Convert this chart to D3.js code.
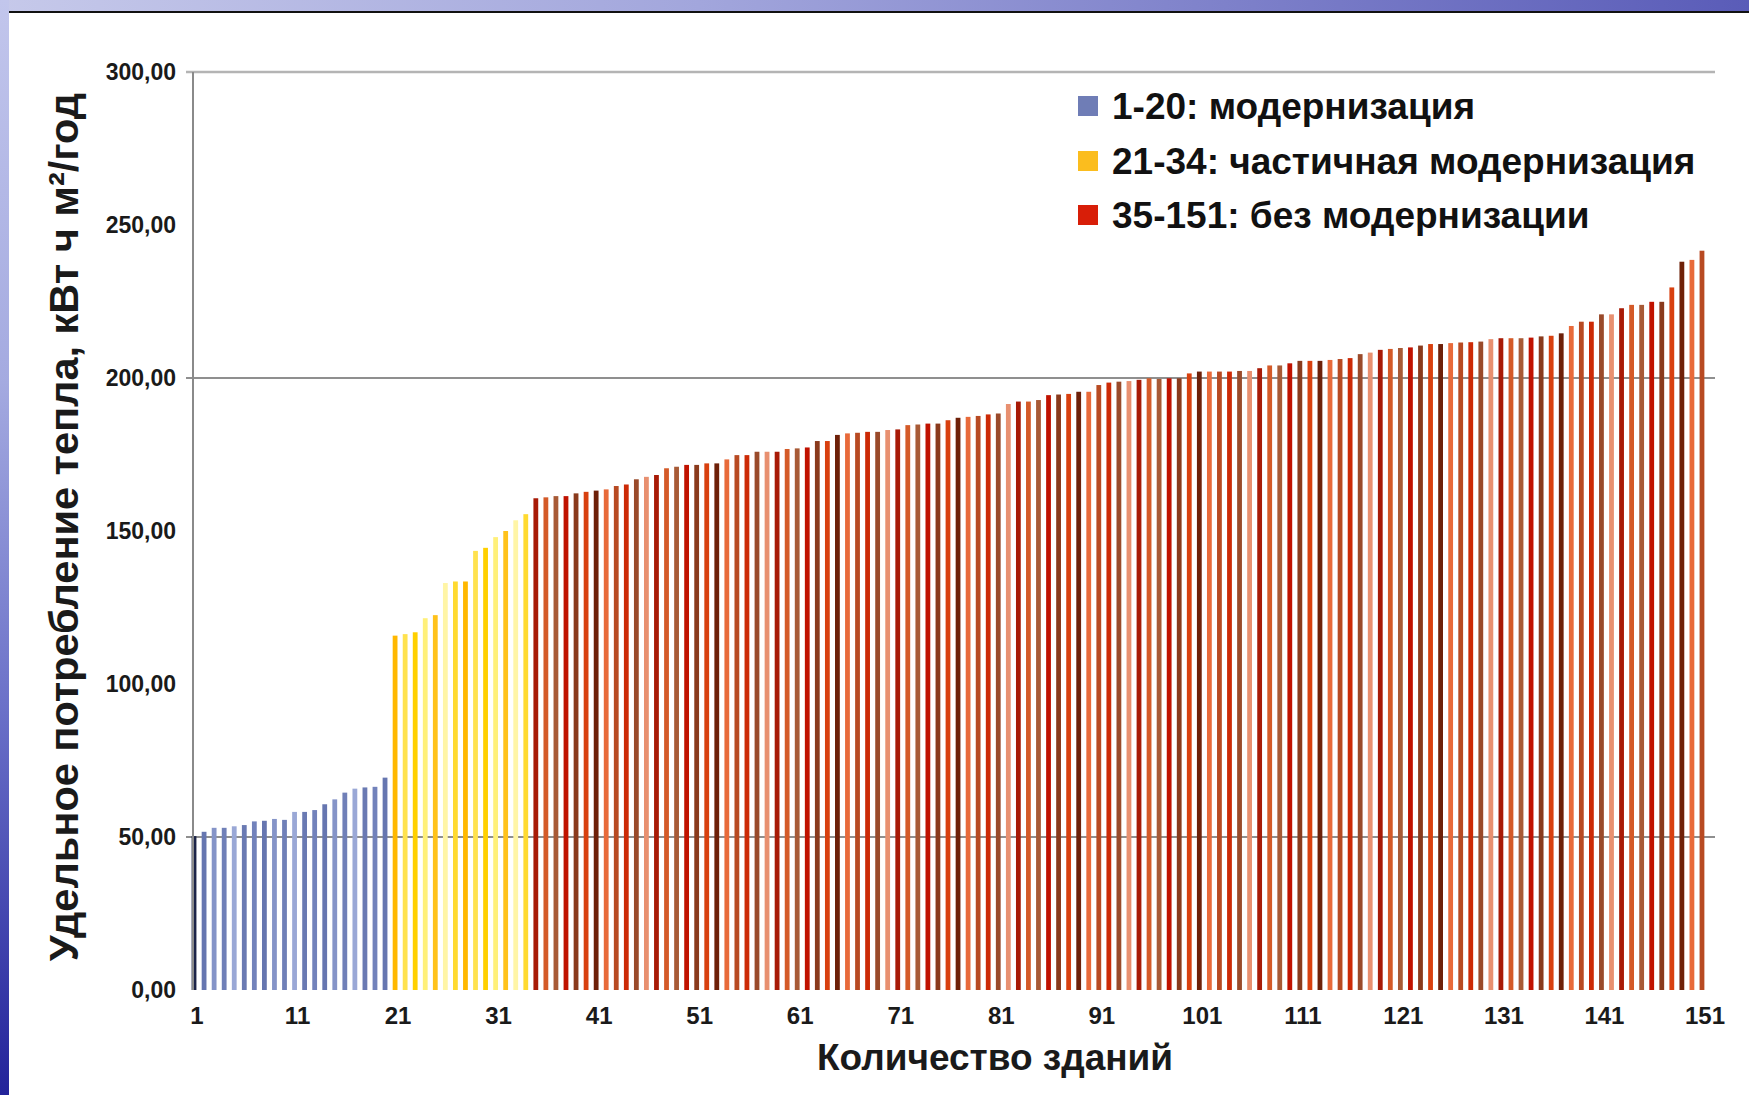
<!DOCTYPE html>
<html><head><meta charset="utf-8">
<script src="https://cdn.jsdelivr.net/npm/d3@7"></script>
<style>html,body{margin:0;padding:0;background:#fff;overflow:hidden}</style>
</head><body>
<svg id="c" width="1749" height="1095"></svg>
<script>
// ---- data ----
const buildingIds = d3.range(1, 152);
const groupModern = [50.3, 51.7, 53.0, 53.0, 53.5, 53.9, 55.1, 55.3, 55.9, 55.6,
  58.2, 58.2, 58.8, 60.7, 62.3, 64.5, 65.8, 66.2, 66.4, 69.4];
const groupPartial = [115.8, 116.3, 116.9, 121.5, 122.5, 133.0, 133.5, 133.5, 143.5, 144.5,
  148.0, 150.0, 153.5, 155.5];
const groupNone = [160.7, 161.0, 161.4, 161.4, 162.3, 162.8, 163.2, 163.6, 164.7, 165.2,
  166.9, 167.7, 168.3, 170.5, 171.0, 171.6, 171.6, 172.1, 172.1, 173.4,
  174.8, 174.8, 175.9, 175.9, 175.9, 176.8, 177.0, 177.3, 179.4, 179.4,
  181.4, 181.9, 182.1, 182.4, 182.4, 183.0, 183.2, 184.6, 184.8, 185.1,
  185.1, 186.2, 187.0, 187.3, 187.6, 188.1, 188.4, 191.5, 192.3, 192.3,
  192.8, 194.4, 194.6, 194.8, 195.5, 195.5,
  197.7, 198.5, 198.8, 199.0, 199.4, 199.9, 199.7, 199.9, 199.9, 201.5,
  202.1, 202.1, 202.1, 202.1, 202.3, 202.3, 203.2, 204.1, 204.1, 204.8,
  205.6, 205.6, 205.6, 205.9, 206.2, 206.5, 207.8, 208.3, 209.2, 209.5,
  209.8, 210.0, 210.6, 211.1, 211.1, 211.4, 211.6, 211.7, 211.9, 212.7,
  213.0, 213.0, 213.0, 213.2, 213.6, 213.8, 214.6, 217.0, 218.4, 218.4,
  220.8, 220.8, 222.8, 223.9, 223.9, 224.9, 224.9, 229.6, 238.0, 238.6,
  241.6];
const legendLabels = ["1-20: модернизация", "21-34: частичная модернизация", "35-151: без модернизации"];
const yTickValues = [0, 50, 100, 150, 200, 250, 300];
const gridValues = [50, 200, 300];
const xTickValues = [1, 11, 21, 31, 41, 51, 61, 71, 81, 91, 101, 111, 121, 131, 141, 151];
const yTitle = "Удельное потребление тепла, кВт ч м²/год";
const xTitle = "Количество зданий";

// ---- styles ----
const legendColors = ["#6f7db6", "#fbbd1e", "#d81e08"];
const bluePal = ["#7282bb", "#6676b0", "#8594c8", "#7080b8", "#9aa8d6", "#6a7ab3"];
const yellowPal = ["#ffe24e", "#ffd000", "#fff07a", "#ffc21a", "#fff5a6", "#ffda30", "#ffb800"];
const redPal = ["#a85a36", "#c01200", "#8a3a1c", "#d8400f", "#6e2008", "#e86a3a",
  "#b84a22", "#cc2a06", "#9a4a2a", "#e89070", "#a81a06", "#d45a28"];
const FONT = "'Liberation Sans', Arial, sans-serif";

const values = groupModern.concat(groupPartial, groupNone);
const data = buildingIds.map((id, i) => {
  let g, c;
  if (i < groupModern.length) { g = 0; c = i === 0 ? "#1c2448" : bluePal[i % bluePal.length]; }
  else if (i < groupModern.length + groupPartial.length) { g = 1; c = yellowPal[i % yellowPal.length]; }
  else { g = 2; c = redPal[i % redPal.length]; }
  return { id, v: values[i], g, c };
});

const svg = d3.select("#c");
const W = 1749, H = 1095;
const x = d3.scaleBand().domain(buildingIds).range([189, 1707]);
const y = d3.scaleLinear().domain([0, 300]).range([990, 72]);
const plotLeft = 193, plotRight = 1715;

// ---- background decorations ----
const defs = svg.append("defs");
const gTop = defs.append("linearGradient").attr("id", "gTop").attr("x1", 0).attr("x2", 1).attr("y1", 0).attr("y2", 0);
gTop.append("stop").attr("offset", 0).attr("stop-color", "#c6c9ea");
gTop.append("stop").attr("offset", 0.4).attr("stop-color", "#a2a6dc");
gTop.append("stop").attr("offset", 1).attr("stop-color", "#5a5cb8");
const gLeft = defs.append("linearGradient").attr("id", "gLeft").attr("x1", 0).attr("x2", 0).attr("y1", 0).attr("y2", 1);
gLeft.append("stop").attr("offset", 0).attr("stop-color", "#c2c6ec");
gLeft.append("stop").attr("offset", 0.35).attr("stop-color", "#a4aae0");
gLeft.append("stop").attr("offset", 0.65).attr("stop-color", "#6a70c8");
gLeft.append("stop").attr("offset", 1).attr("stop-color", "#23239a");

svg.append("rect").attr("width", W).attr("height", H).attr("fill", "#fff");
svg.append("rect").attr("x", 0).attr("y", 0).attr("width", W).attr("height", 12).attr("fill", "url(#gTop)");
svg.append("rect").attr("x", 0).attr("y", 0).attr("width", 9).attr("height", H).attr("fill", "url(#gLeft)");
svg.append("rect").attr("x", 9).attr("y", 11).attr("width", W - 9).attr("height", 2).attr("fill", "#111");

// ---- gridlines ----
svg.append("g").selectAll("line").data(gridValues).join("line")
  .attr("x1", plotLeft - 7).attr("x2", plotRight)
  .attr("y1", d => y(d)).attr("y2", d => y(d))
  .attr("stroke", d => d === 300 ? "#b4b4b4" : "#6a6a6a")
  .attr("stroke-width", d => d === 300 ? 2.5 : 1.6);

// ---- bars ----
const bw = 4.8;
svg.append("g").selectAll("rect").data(data).join("rect")
  .attr("x", d => x(d.id) + x.bandwidth() / 2 - bw / 2)
  .attr("width", bw)
  .attr("y", d => y(d.v))
  .attr("height", d => y(0) - y(d.v))
  .attr("fill", d => d.c);

// ---- y axis ----
svg.append("line").attr("x1", plotLeft).attr("x2", plotLeft).attr("y1", y(300)).attr("y2", y(0))
  .attr("stroke", "#8a8a8a").attr("stroke-width", 2);
const yAxis = d3.axisLeft(y).tickValues(yTickValues).tickSize(0).tickPadding(17)
  .tickFormat(d => d3.format(".2f")(d).replace(".", ","));
const gy = svg.append("g").attr("transform", `translate(${plotLeft},0)`).call(yAxis);
gy.select(".domain").remove();
gy.selectAll("text").attr("font-family", FONT).attr("font-weight", "bold").attr("font-size", 23).attr("fill", "#1a1a1a");

// ---- x axis ----
const xAxis = d3.axisBottom(x).tickValues(xTickValues).tickSize(0).tickPadding(17);
const gx = svg.append("g").attr("transform", `translate(3,${y(0)})`).call(xAxis);
gx.select(".domain").remove();
gx.selectAll("text").attr("font-family", FONT).attr("font-weight", "bold").attr("font-size", 24).attr("fill", "#1a1a1a");

// ---- titles ----
svg.append("text").attr("transform", "translate(63,527) rotate(-90)")
  .attr("text-anchor", "middle").attr("dominant-baseline", "central")
  .attr("font-family", FONT).attr("font-weight", "bold").attr("font-size", 41.5).attr("fill", "#1a1a1a")
  .text(yTitle);
svg.append("text").attr("x", 995).attr("y", 1057)
  .attr("text-anchor", "middle").attr("dominant-baseline", "central")
  .attr("font-family", FONT).attr("font-weight", "bold").attr("font-size", 37).attr("fill", "#1a1a1a")
  .text(xTitle);

// ---- legend ----
const rowY = [106, 161, 215];
const lg = svg.append("g").selectAll("g").data(legendLabels).join("g")
  .attr("transform", (d, i) => `translate(1078,${rowY[i]})`);
lg.append("rect").attr("x", 0).attr("y", -10).attr("width", 20).attr("height", 20).attr("fill", (d, i) => legendColors[i]);
lg.append("text").attr("x", 34).attr("y", 0).attr("dominant-baseline", "central")
  .attr("font-family", FONT).attr("font-weight", "bold").attr("font-size", 37).attr("fill", "#111")
  .text(d => d);
</script>
</body></html>
